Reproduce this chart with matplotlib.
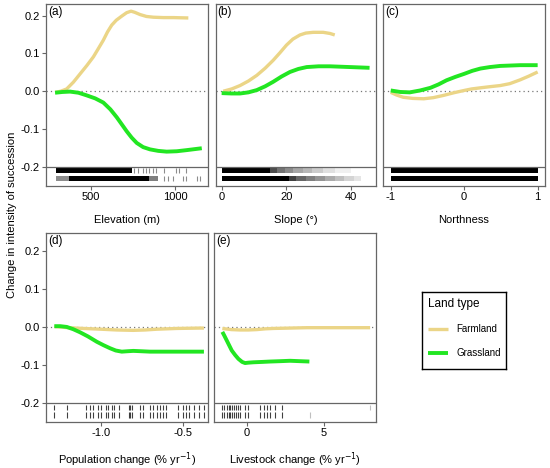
import matplotlib
matplotlib.use("Agg")
import matplotlib.pyplot as plt

plt.rcParams["font.family"] = ["Liberation Sans", "DejaVu Sans"]
plt.rcParams["axes.unicode_minus"] = False

W, H = 550, 468
FARM = "#EBD587"
GRASS = "#22E622"
FRAME = "#666666"

# ---- curves ----
elev_farm_x = [286, 320, 355, 395, 435, 475, 514, 545, 573, 598, 623, 650, 683, 712, 738,
               760, 792, 830, 871, 930, 990, 1079]
elev_farm_y = [-0.003, 0.0, 0.006, 0.024, 0.046, 0.068, 0.091, 0.114, 0.135, 0.157, 0.175,
               0.188, 0.199, 0.208, 0.212, 0.209, 0.203, 0.198, 0.196, 0.195, 0.195, 0.194]
elev_grass_x = [286, 330, 375, 425, 474, 525, 573, 615, 653, 685, 712, 742, 772, 810, 851,
                900, 950, 1010, 1069, 1159]
elev_grass_y = [-0.004, -0.002, -0.001, -0.004, -0.011, -0.019, -0.030, -0.048, -0.069,
                -0.089, -0.106, -0.123, -0.137, -0.148, -0.154, -0.158, -0.160, -0.159,
                -0.156, -0.151]

slope_farm_x = [0.4, 3, 5.6, 8.2, 10.8, 13.4, 15.9, 18, 20, 22, 24.2, 26, 28.3, 31.4, 33.5, 35.0]
slope_farm_y = [0.0, 0.006, 0.015, 0.027, 0.042, 0.061, 0.082, 0.102, 0.122, 0.138, 0.149,
                0.154, 0.156, 0.156, 0.153, 0.149]
slope_grass_x = [-0.1, 3, 5.6, 8.2, 10.8, 13.4, 15.9, 18.5, 21.1, 23.7, 26.3, 30, 33.5, 39.7, 45.8]
slope_grass_y = [-0.005, -0.006, -0.006, -0.003, 0.003, 0.013, 0.025, 0.039, 0.051, 0.059,
                 0.064, 0.066, 0.066, 0.064, 0.062]

north_farm_x = [-1.0, -0.92, -0.83, -0.7, -0.55, -0.42, -0.28, -0.14, 0.0, 0.1, 0.22, 0.35,
                0.49, 0.62, 0.76, 0.88, 1.0]
north_farm_y = [-0.003, -0.010, -0.016, -0.019, -0.020, -0.017, -0.011, -0.004, 0.002, 0.006,
                0.009, 0.012, 0.015, 0.020, 0.030, 0.040, 0.051]
north_grass_x = [-1.0, -0.87, -0.74, -0.6, -0.46, -0.35, -0.24, -0.12, 0.0, 0.11, 0.22, 0.35,
                 0.49, 0.76, 1.0]
north_grass_y = [0.002, -0.002, -0.003, 0.002, 0.009, 0.018, 0.029, 0.038, 0.046, 0.054,
                 0.060, 0.064, 0.067, 0.069, 0.069]

pop_farm_x = [-1.286, -1.2, -1.108, -1.0, -0.904, -0.802, -0.73, -0.659, -0.537, -0.394, -0.37]
pop_farm_y = [0.002, -0.001, -0.003, -0.005, -0.007, -0.008, -0.007, -0.005, -0.003, -0.002, -0.002]
pop_grass_x = [-1.286, -1.25, -1.21, -1.17, -1.129, -1.08, -1.026, -0.985, -0.945, -0.91,
               -0.873, -0.84, -0.802, -0.75, -0.70, -0.6, -0.496, -0.37]
pop_grass_y = [0.003, 0.003, 0.001, -0.005, -0.013, -0.024, -0.038, -0.047, -0.055, -0.061,
               -0.064, -0.063, -0.062, -0.063, -0.064, -0.064, -0.064, -0.064]

live_farm_x = [-1.58, -1.0, -0.43, 0.1, 0.65, 1.2, 1.72, 3.88, 7.98]
live_farm_y = [-0.003, -0.006, -0.007, -0.007, -0.006, -0.004, -0.003, -0.001, -0.001]
live_grass_x = [-1.58, -1.45, -1.29, -1.13, -0.97, -0.75, -0.54, -0.3, -0.11, 0.1, 0.43, 1.0,
                1.51, 2.2, 2.80, 3.4, 4.05]
live_grass_y = [-0.012, -0.022, -0.035, -0.048, -0.061, -0.073, -0.083, -0.091, -0.094,
                -0.093, -0.092, -0.091, -0.090, -0.089, -0.088, -0.089, -0.090]

# ---- rugs: dense spans (start, end, alpha) and single ticks ----
elev_farm_spans = [(292, 744, 1.0)]
elev_farm_ticks = [758, 777, 807, 827, 847, 867, 887, 936, 1006, 1026, 1065]
elev_grass_spans = [(292, 371, 0.45), (371, 847, 1.0), (847, 897, 0.5)]
elev_grass_ticks = [936, 956, 986, 1046, 1065, 1129, 1149]

slope_farm_spans = [(0.1, 15.0, 1.0), (15.0, 17.0, 0.7), (17.0, 19.5, 0.55), (19.5, 22.0, 0.45),
                    (22.0, 25.0, 0.35), (25.0, 28.0, 0.28), (28.0, 31.5, 0.2),
                    (31.5, 35.0, 0.12), (35.0, 39.9, 0.06)]
slope_grass_spans = [(0.1, 20.8, 1.0), (20.8, 23.0, 0.75), (23.0, 26.0, 0.6), (26.0, 29.0, 0.5),
                     (29.0, 32.0, 0.42), (32.0, 35.0, 0.33), (35.0, 38.0, 0.25),
                     (38.0, 41.0, 0.17), (41.0, 43.0, 0.1)]

north_farm_spans = [(-1.0, 1.0, 1.0)]
north_grass_spans = [(-1.0, 1.0, 1.0)]

pop_ticks = [-1.29, -1.21, -1.09, -1.07, -1.05, -1.02, -1.00, -0.97, -0.96, -0.93,
             -0.92, -0.89, -0.83, -0.82, -0.81, -0.76, -0.74, -0.70, -0.68, -0.66,
             -0.64, -0.62, -0.60, -0.53, -0.50, -0.48, -0.46, -0.43, -0.40, -0.37]

live_common_ticks = [-1.60, -1.45, -1.27, -1.16, -1.06, -0.95, -0.84, -0.69, -0.56,
                     -0.41, -0.09, 0.08, 0.88, 1.10, 1.31, 1.53, 1.85, 2.28]
live_farm_extra = [7.97]
live_grass_extra = [4.1]

land_types = ["Farmland", "Grassland"]


def rect(l, t, r, b):
    return [l / W, 1 - b / H, (r - l) / W, (b - t) / H]


fig = plt.figure(figsize=(W / 100, H / 100), dpi=100)

TOP_RUG = (-0.217, -0.203)
BOT_RUG = (-0.238, -0.224)


def draw_rug(ax, band, spans=(), ticks=(), tick_alpha=0.75):
    y0, y1 = band
    for s, e, a in spans:
        ax.broken_barh([(s, e - s)], (y0, y1 - y0), facecolors="black", alpha=a, lw=0)
    if len(ticks):
        ax.vlines(ticks, y0, y1, colors="black", lw=0.8, alpha=tick_alpha)


def panel(box, xlim, ylim, letter, xlabel, xticks, fx, fy, gx, gy, ylabels):
    ax = fig.add_axes(rect(*box))
    ax.set_xlim(*xlim)
    ax.set_ylim(*ylim)
    ax.axhline(0, color="#777777", lw=0.9, ls=(0, (1, 2.5)))
    ax.axhline(-0.2, color=FRAME, lw=0.9)
    lf, = ax.plot(fx, fy, color=FARM, lw=2.4, solid_capstyle="butt", solid_joinstyle="round")
    lg, = ax.plot(gx, gy, color=GRASS, lw=2.8, solid_capstyle="butt", solid_joinstyle="round")
    for s in ax.spines.values():
        s.set_color(FRAME)
        s.set_linewidth(0.9)
    ax.set_xticks(xticks)
    ax.tick_params(axis="both", length=3, width=0.8, color=FRAME, labelsize=8, pad=1.5)
    if ylabels:
        ax.set_yticks([-0.2, -0.1, 0.0, 0.1, 0.2])
        ax.set_yticklabels(["-0.2", "-0.1", "0.0", "0.1", "0.2"])
    else:
        ax.set_yticks([])
    ax.set_xlabel(xlabel, fontsize=8, labelpad=9)
    ax.text(0.012, 0.99, letter, transform=ax.transAxes, va="top", ha="left", fontsize=8.5)
    return ax, lf, lg


ROW1 = (-0.251, 0.231)
ROW2 = (-0.249, 0.248)

ax_a, lf, lg = panel((46, 4, 208, 186), (232, 1196), ROW1, "(a)", "Elevation (m)", [500, 1000],
                     elev_farm_x, elev_farm_y, elev_grass_x, elev_grass_y, True)
draw_rug(ax_a, TOP_RUG, elev_farm_spans, elev_farm_ticks, 0.45)
draw_rug(ax_a, BOT_RUG, elev_grass_spans, elev_grass_ticks, 0.45)

ax_b, _, _ = panel((215.7, 4, 376, 186), (-1.95, 47.8), ROW1, "(b)", "Slope (°)", [0, 20, 40],
                   slope_farm_x, slope_farm_y, slope_grass_x, slope_grass_y, False)
draw_rug(ax_b, TOP_RUG, slope_farm_spans)
draw_rug(ax_b, BOT_RUG, slope_grass_spans)

ax_c, _, _ = panel((383, 4, 545, 186), (-1.105, 1.1), ROW1, "(c)", "Northness", [-1, 0, 1],
                   north_farm_x, north_farm_y, north_grass_x, north_grass_y, False)
draw_rug(ax_c, TOP_RUG, north_farm_spans)
draw_rug(ax_c, BOT_RUG, north_grass_spans)

ax_d, _, _ = panel((46, 233, 208, 422), (-1.337, -0.345), ROW2, "(d)",
                   "Population change (% yr$^{-1}$)", [-1.0, -0.5],
                   pop_farm_x, pop_farm_y, pop_grass_x, pop_grass_y, True)
ax_d.set_xticklabels(["-1.0", "-0.5"])
draw_rug(ax_d, TOP_RUG, ticks=pop_ticks)
draw_rug(ax_d, BOT_RUG, ticks=pop_ticks)

ax_e, _, _ = panel((214.3, 233, 376, 422), (-2.1, 8.36), ROW2, "(e)",
                   "Livestock change (% yr$^{-1}$)", [0, 5],
                   live_farm_x, live_farm_y, live_grass_x, live_grass_y, False)
draw_rug(ax_e, TOP_RUG, ticks=live_common_ticks)
draw_rug(ax_e, TOP_RUG, ticks=live_farm_extra, tick_alpha=0.25)
draw_rug(ax_e, BOT_RUG, ticks=live_common_ticks)
draw_rug(ax_e, BOT_RUG, ticks=live_grass_extra, tick_alpha=0.25)

fig.text(12 / W, 1 - 215 / H, "Change in intensity of succession", rotation=90,
         ha="center", va="center", fontsize=8)

# legend box as its own axes so the frame matches the reference size
leg_ax = fig.add_axes(rect(422.3, 292.3, 506, 369.3))
leg_ax.set_xticks([])
leg_ax.set_yticks([])
for s in leg_ax.spines.values():
    s.set_color("black")
    s.set_linewidth(1.0)
leg = leg_ax.legend([lf, lg], land_types, title="Land type", loc="upper left",
                    bbox_to_anchor=(0.0, 1.0), frameon=False, fontsize=7, title_fontsize=8.5,
                    handlelength=2.0, handletextpad=0.9, labelspacing=1.45, borderpad=0.45,
                    borderaxespad=0.15, alignment="left")

fig.savefig("out.png", dpi=100)
